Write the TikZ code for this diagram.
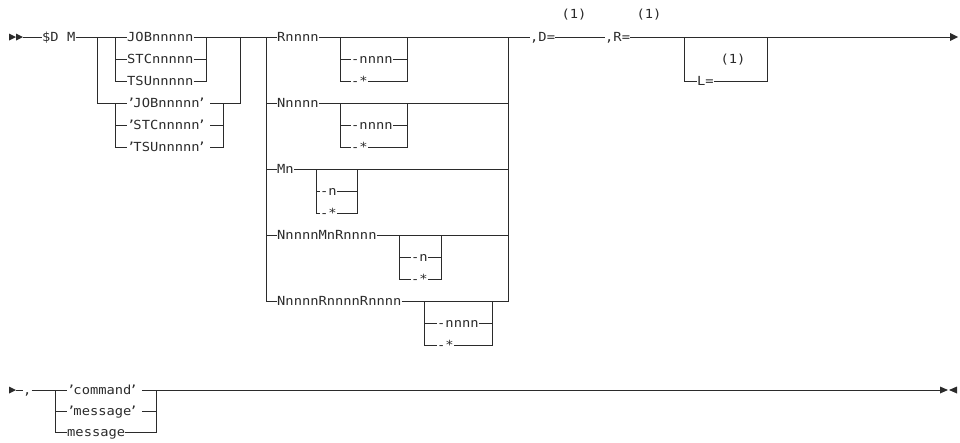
\documentclass[tikz,border=0pt]{standalone}
\usepackage{fontspec}
\newfontfamily\diagfont[FakeStretch=1.1]{DejaVu Sans Mono}
\definecolor{ink}{HTML}{2B2B2B}
\newcommand{\qq}[1]{’\kern-2pt#1\kern-2pt’}
\begin{document}
\begin{tikzpicture}[x=1pt,y=-1pt,
  ln/.style={line width=1pt, draw=ink},
  tip/.style={fill=ink, draw=none},
  tx/.style={font={\diagfont\fontsize{12.5pt}{14pt}\selectfont}, inner sep=0pt, text height=9pt, text depth=0pt, anchor=west, text=ink},
  nt/.style={font={\diagfont\fontsize{12.5pt}{14pt}\selectfont}, inner sep=0pt, text=ink}]
\useasboundingbox (0,0) rectangle (960,442);

% ---------- first line ----------
\coordinate (start) at (23,37);
\fill[tip] (9,33.5) -- (16,37) -- (9,40.5) -- cycle;
\fill[tip] (16,33.5) -- (23,37) -- (16,40.5) -- cycle;
\node[tx] (sd) at (42,37) {\$D M};
\draw[ln] (start) -- (sd.west);

% left group
\node[tx] (job)  at (127,37)  {JOBnnnnn};
\node[tx] (stc)  at (127,59)  {STCnnnnn};
\node[tx] (tsu)  at (127,81)  {TSUnnnnn};
\node[tx] (qjob) at (127,103) {\qq{JOBnnnnn}\kern4pt};
\node[tx] (qstc) at (127,125) {\qq{STCnnnnn}\kern4pt};
\node[tx] (qtsu) at (127,147) {\qq{TSUnnnnn}\kern4pt};
\coordinate (v1t) at (97,37);
\coordinate (v2t) at (115,37);
\coordinate (v2u) at (115,103);
\coordinate (v3t) at (206,37);
\coordinate (v4u) at (223,103);
\coordinate (v5t) at (240,37);
\coordinate (v5b) at (240,103);

\draw[ln] (sd.east) -- (job.west);
\draw[ln] (v1t) |- (qjob.west);
\draw[ln] (v2t) |- (tsu.west);
\draw[ln] (v2t |- stc.west) -- (stc.west);
\draw[ln] (v2u) |- (qtsu.west);
\draw[ln] (v2u |- qstc.west) -- (qstc.west);
\draw[ln] (stc.east) -| (v3t);
\draw[ln] (tsu.east) -| (v3t);
\draw[ln] (qjob.east) -- (v5b) -- (v5t);
\draw[ln] (qstc.east) -| (v4u);
\draw[ln] (qtsu.east) -| (v4u);

% right group
\node[tx] (rn)  at (277,37)  {Rnnnn};
\node[tx] (nn)  at (277,103) {Nnnnn};
\node[tx] (mn)  at (277,169) {Mn};
\node[tx] (nmr) at (277,235) {NnnnnMnRnnnn};
\node[tx] (nrr) at (277,301) {NnnnnRnnnnRnnnn};
\coordinate (v6t) at (266,37);
\coordinate (v7t) at (508,37);
\node[tx] (dq) at (530,37) {,D=};

\draw[ln] (job.east) -- (rn.west);
\draw[ln] (v6t) |- (nrr.west);
\draw[ln] (v6t |- nn.west) -- (nn.west);
\draw[ln] (v6t |- mn.west) -- (mn.west);
\draw[ln] (v6t |- nmr.west) -- (nmr.west);
\draw[ln] (rn.east) -- (dq.west);
\draw[ln] (nn.east) -- (v7t |- nn.east);
\draw[ln] (mn.east) -- (v7t |- mn.east);
\draw[ln] (nmr.east) -- (v7t |- nmr.east);
\draw[ln] (nrr.east) -| (v7t);

% sub-branches
\node[tx] (rn1) at (351,59)  {-nnnn};
\node[tx] (rn2) at (351,81)  {-*};
\coordinate (rnL) at (340,37); \coordinate (rnR) at (407,37);
\draw[ln] (rnL) |- (rn2.west);
\draw[ln] (rnL |- rn1.west) -- (rn1.west);
\draw[ln] (rn1.east) -- (rnR |- rn1.east);
\draw[ln] (rn2.east) -| (rnR);

\node[tx] (nn1) at (351,125) {-nnnn};
\node[tx] (nn2) at (351,147) {-*};
\coordinate (nnL) at (340,103); \coordinate (nnR) at (407,103);
\draw[ln] (nnL) |- (nn2.west);
\draw[ln] (nnL |- nn1.west) -- (nn1.west);
\draw[ln] (nn1.east) -- (nnR |- nn1.east);
\draw[ln] (nn2.east) -| (nnR);

\node[tx] (mn1) at (320,191) {-n};
\node[tx] (mn2) at (320,213) {-*};
\coordinate (mnL) at (316,169); \coordinate (mnR) at (357,169);
\draw[ln] (mnL) |- (mn2.west);
\draw[ln] (mnL |- mn1.west) -- (mn1.west);
\draw[ln] (mn1.east) -- (mnR |- mn1.east);
\draw[ln] (mn2.east) -| (mnR);

\node[tx] (nmr1) at (411,257) {-n};
\node[tx] (nmr2) at (411,279) {-*};
\coordinate (nmrL) at (399,235); \coordinate (nmrR) at (441,235);
\draw[ln] (nmrL) |- (nmr2.west);
\draw[ln] (nmrL |- nmr1.west) -- (nmr1.west);
\draw[ln] (nmr1.east) -- (nmrR |- nmr1.east);
\draw[ln] (nmr2.east) -| (nmrR);

\node[tx] (nrr1) at (437,323) {-nnnn};
\node[tx] (nrr2) at (437,345) {-*};
\coordinate (nrrL) at (424,301); \coordinate (nrrR) at (492,301);
\draw[ln] (nrrL) |- (nrr2.west);
\draw[ln] (nrrL |- nrr1.west) -- (nrr1.west);
\draw[ln] (nrr1.east) -- (nrrR |- nrr1.east);
\draw[ln] (nrr2.east) -| (nrrR);

% D=, R=, L=
\node[tx] (rq) at (605,37) {,R=};
\node[nt] (n1) at (574,15) {(1)};
\node[nt] (n2) at (649,15) {(1)};
\node[nt] (n3) at (733,60) {(1)};
\node[tx] (lq) at (697,81) {L=};
\coordinate (lL) at (684,37);
\coordinate (lR) at (767,37);
\coordinate (end1) at (950,37);
\draw[ln] (dq.east) -- (rq.west);
\draw[ln] (rq.east) -- (end1);
\draw[ln] (lL) |- (lq.west);
\draw[ln] (lq.east) -| (lR);
\fill[tip] (950,33) -- (958,37) -- (950,41) -- cycle;

% ---------- second line ----------
\coordinate (start2) at (16,390);
\fill[tip] (9,386.5) -- (16,390) -- (9,393.5) -- cycle;
\node[tx] (cm) at (23,390) {,};
\draw[ln] (start2) -- (cm.west);
\node[tx] (cmd)  at (67,390) {\qq{command}\kern4pt};
\node[tx] (msgq) at (67,411) {\qq{message}\kern4pt};
\node[tx] (msg)  at (67,432) {message};
\coordinate (bL) at (55,390);
\coordinate (bR) at (156,390);
\coordinate (end2) at (940,390);
\draw[ln] (cm.east) -- (cmd.west);
\draw[ln] (bL) |- (msg.west);
\draw[ln] (bL |- msgq.west) -- (msgq.west);
\draw[ln] (cmd.east) -- (end2);
\draw[ln] (msgq.east) -| (bR);
\draw[ln] (msg.east) -| (bR);
\fill[tip] (940,386.5) -- (948,390) -- (940,393.5) -- cycle;
\fill[tip] (957,386.5) -- (949,390) -- (957,393.5) -- cycle;
\end{tikzpicture}
\end{document}
